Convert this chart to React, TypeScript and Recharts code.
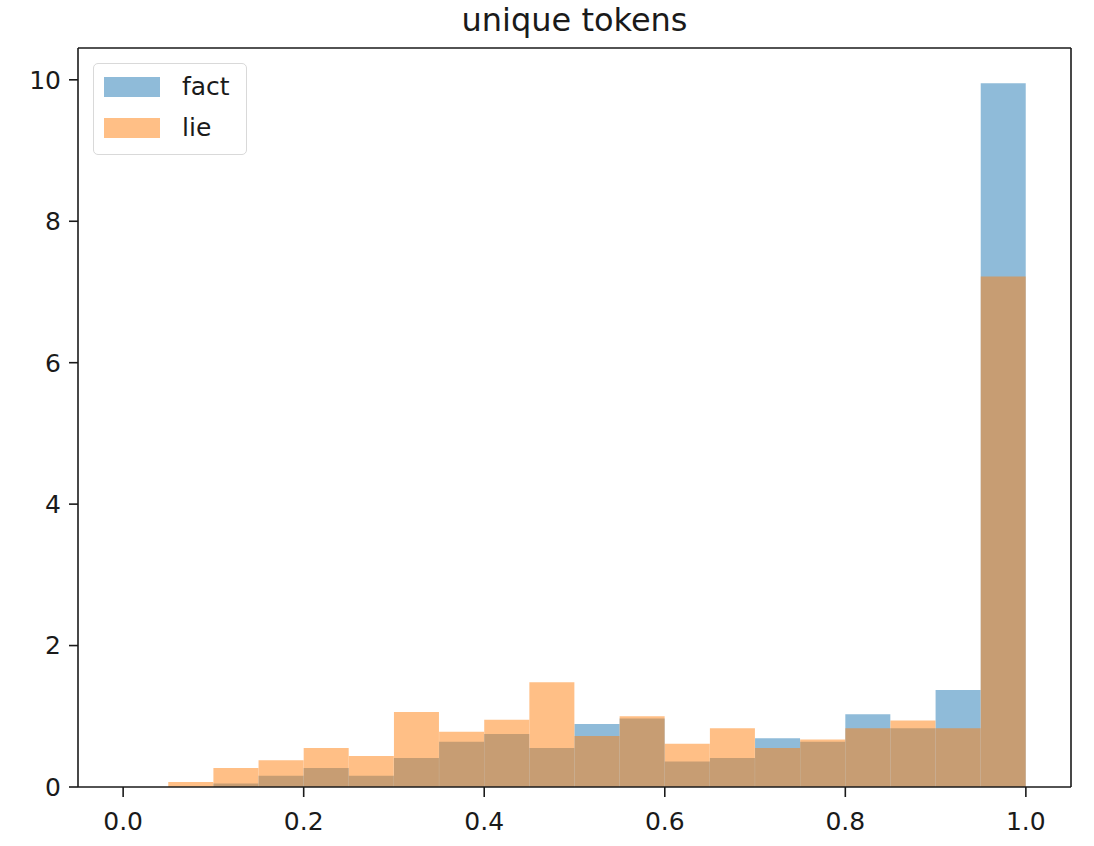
import { ComposedChart, Bar, XAxis, YAxis, Legend } from "recharts";

// histogram of unique-token ratio, 20 bins of width 0.05
const binCenters = [
  0.025, 0.075, 0.125, 0.175, 0.225, 0.275, 0.325, 0.375, 0.425, 0.475,
  0.525, 0.575, 0.625, 0.675, 0.725, 0.775, 0.825, 0.875, 0.925, 0.975,
];
const factValues = [
  0, 0, 0.05, 0.16, 0.27, 0.16, 0.41, 0.64, 0.75, 0.55,
  0.89, 0.97, 0.36, 0.41, 0.69, 0.64, 1.03, 0.83, 1.37, 9.95,
];
const lieValues = [
  0, 0.07, 0.27, 0.38, 0.55, 0.44, 1.06, 0.78, 0.95, 1.48,
  0.72, 1.0, 0.61, 0.83, 0.55, 0.67, 0.83, 0.94, 0.83, 7.22,
];
const xTicks = [0, 0.2, 0.4, 0.6, 0.8, 1.0];
const yTicks = [0, 2, 4, 6, 8, 10];

const data = binCenters.map((x, i) => ({ x, fact: factValues[i], lie: lieValues[i] }));

const FONT = "'DejaVu Sans', sans-serif";
const INK = "#1a1a1a";
const BLUE = "#1f77b4";
const ORANGE = "#ff7f0e";

function HistLegend({ payload }: any) {
  return (
    <div
      style={{
        border: "1.5px solid #d9d9d9",
        borderRadius: 5,
        background: "rgba(255,255,255,0.8)",
        padding: "2px 12px 6px 10px",
        fontFamily: FONT,
        fontSize: 25,
        color: INK,
        boxSizing: "border-box",
      }}
    >
      {(payload ?? []).map((p: any) => (
        <div key={p.value} style={{ display: "flex", alignItems: "center", height: 41 }}>
          <span
            style={{
              display: "inline-block",
              width: 56,
              height: 20,
              background: p.color,
              opacity: 0.5,
              marginRight: 22,
            }}
          />
          <span>{p.value}</span>
        </div>
      ))}
    </div>
  );
}

export default function App() {
  return (
    <div style={{ position: "absolute", left: 0, top: 0, width: 1094, height: 846, background: "#fff" }}>
      <ComposedChart
        width={1094}
        height={846}
        data={data}
        margin={{ top: 47, right: 22, bottom: 0, left: 0 }}
        barCategoryGap={0}
        barGap={0}
      >
        <XAxis
          dataKey="x"
          type="number"
          domain={[-0.05, 1.05]}
          ticks={xTicks}
          tickFormatter={(v: number) => v.toFixed(1)}
          height={59}
          tickSize={10}
          tickMargin={15}
          allowDataOverflow
          axisLine={{ stroke: INK, strokeWidth: 1.6 }}
          tickLine={{ stroke: INK, strokeWidth: 1.6 }}
          tick={{ fill: INK, fontSize: 25, fontFamily: FONT }}
        />
        <XAxis
          xAxisId="top"
          dataKey="x"
          type="number"
          orientation="top"
          domain={[-0.05, 1.05]}
          height={1}
          tick={false}
          tickLine={false}
          allowDataOverflow
          axisLine={{ stroke: INK, strokeWidth: 1.6 }}
          label={{
            value: "unique tokens",
            position: "top",
            offset: 16,
            fill: INK,
            fontSize: 32,
            fontFamily: FONT,
          }}
        />
        <YAxis
          type="number"
          domain={[0, 10.45]}
          ticks={yTicks}
          width={78}
          tickSize={9}
          tickMargin={8}
          allowDataOverflow
          axisLine={{ stroke: INK, strokeWidth: 1.6 }}
          tickLine={{ stroke: INK, strokeWidth: 1.6 }}
          tick={{ fill: INK, fontSize: 25, fontFamily: FONT }}
        />
        <YAxis
          yAxisId="right"
          orientation="right"
          type="number"
          domain={[0, 10.45]}
          width={1}
          tick={false}
          tickLine={false}
          allowDataOverflow
          axisLine={{ stroke: INK, strokeWidth: 1.6 }}
        />
        <Bar dataKey="fact" name="fact" fill={BLUE} fillOpacity={0.5} isAnimationActive={false} />
        <Bar
          dataKey="lie"
          name="lie"
          xAxisId="top"
          fill={ORANGE}
          fillOpacity={0.5}
          isAnimationActive={false}
        />
        <Legend
          layout="horizontal"
          verticalAlign="middle"
          align="center"
          wrapperStyle={{ left: 93, top: 63, width: 154, height: "auto" }}
          content={<HistLegend />}
        />
      </ComposedChart>
    </div>
  );
}
